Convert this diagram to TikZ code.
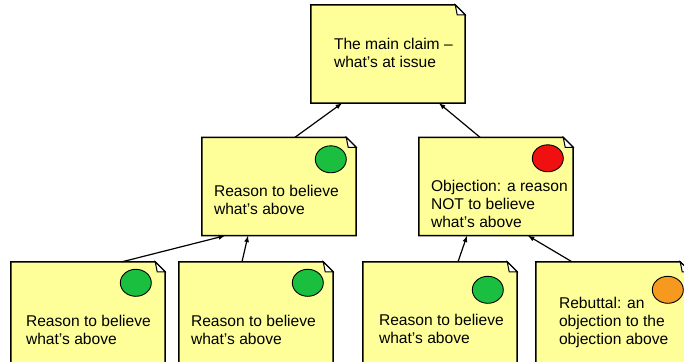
\documentclass[tikz,border=0pt]{standalone}
\usepackage{fontspec}
\setmainfont{Liberation Sans}
\usetikzlibrary{calc}
\definecolor{notefill}{HTML}{FFFF99}
\definecolor{dotgreen}{HTML}{1BBF3F}
\definecolor{dotred}{HTML}{F01010}
\definecolor{dotorange}{HTML}{F5991F}
\tikzset{
  box/.style={minimum width=154pt, minimum height=98pt, inner sep=0pt},
  note/.style={draw, fill=notefill, line width=1.5pt, line join=miter},
  fold/.style={draw, fill=white, line width=1pt},
  dot/.style={draw, line width=0.9pt},
  txt/.style={anchor=base west, align=left, inner sep=0pt, font=\fontsize{15.6}{18}\selectfont},
  link/.style={->, >=latex, line width=1.2pt}
}
\begin{document}
\begin{tikzpicture}[x=1pt,y=-1pt]
        \useasboundingbox (0,0) rectangle (684,361);
        \clip (0,0) rectangle (684,361);
        % the notes
        \node[box] (claim) at (388,54) {};
        \node[box] (reason) at (279,186.5) {};
        \node[box] (objection) at (496,186.5) {};
        \node[box, minimum height=110pt] (reasonA) at (88,317) {};
        \node[box, minimum height=110pt] (reasonB) at (256,317) {};
        \node[box, minimum height=110pt] (reasonC) at (440,317) {};
        \node[box, minimum height=110pt] (rebuttal) at (613,317) {};
        \foreach \b in {claim,reason,objection,reasonA,reasonB,reasonC,rebuttal}{
          \draw[note] (\b.north west) -- ($(\b.north east)+(-10,0)$) -- ($(\b.north east)+(0,10)$) -- (\b.south east) -- (\b.south west) -- cycle;
          \draw[fold] ($(\b.north east)+(-10,0)$) -- ($(\b.north east)+(-8,10)$) -- ($(\b.north east)+(0,10)$) -- cycle;
        }
        % dots
        \filldraw[dot, fill=dotgreen] ($(reason.north west)+(129,22)$) ellipse [x radius=15.5, y radius=13.5];
        \filldraw[dot, fill=dotred] ($(objection.north west)+(129,21)$) ellipse [x radius=15.5, y radius=13.5];
        \filldraw[dot, fill=dotgreen] ($(reasonA.north west)+(125,21)$) ellipse [x radius=15.5, y radius=13.5];
        \filldraw[dot, fill=dotgreen] ($(reasonB.north west)+(129,21)$) ellipse [x radius=15.5, y radius=13.5];
        \filldraw[dot, fill=dotgreen] ($(reasonC.north west)+(125,28)$) ellipse [x radius=15.5, y radius=13.5];
        \filldraw[dot, fill=dotorange] ($(rebuttal.north west)+(132,28)$) ellipse [x radius=15.5, y radius=13.5];
        % texts (base = last line)
        \node[txt] (claimtxt) at ($(claim.north west)+(23,63)$) {The main claim –\\what’s at issue};
        \node[txt] (reasontxt) at ($(reason.north west)+(12,77)$) {Reason to believe\\what’s above};
        \node[txt] (objectiontxt) at ($(objection.north west)+(12,90)$) {Objection: a reason\\NOT to believe\\what’s above};
        \node[txt] (reasonAtxt) at ($(reasonA.north west)+(15,83)$) {Reason to believe\\what’s above};
        \node[txt] (reasonBtxt) at ($(reasonB.north west)+(12,83)$) {Reason to believe\\what’s above};
        \node[txt] (reasonCtxt) at ($(reasonC.north west)+(16,82)$) {Reason to believe\\what’s above};
        \node[txt] (rebuttaltxt) at ($(rebuttal.north west)+(23,83)$) {Rebuttal: an\\objection to the\\objection above};
        % links
        \draw[link] ($(reason.north)+(16,0)$) -- ($(claim.south)+(-46,0)$);
        \draw[link] ($(objection.north)+(-16,0)$) -- ($(claim.south)+(51,0)$);
        \draw[link] ($(reasonA.north)+(34,0)$) -- ($(reason.south)+(-54,0)$);
        \draw[link] ($(reasonB.north)+(-14,0)$) -- ($(reason.south)+(-31,0)$);
        \draw[link] ($(reasonC.north)+(18,0)$) -- ($(objection.south)+(-29,0)$);
        \draw[link] ($(rebuttal.north)+(-41,0)$) -- ($(objection.south)+(32,0)$);
\end{tikzpicture}
\end{document}
